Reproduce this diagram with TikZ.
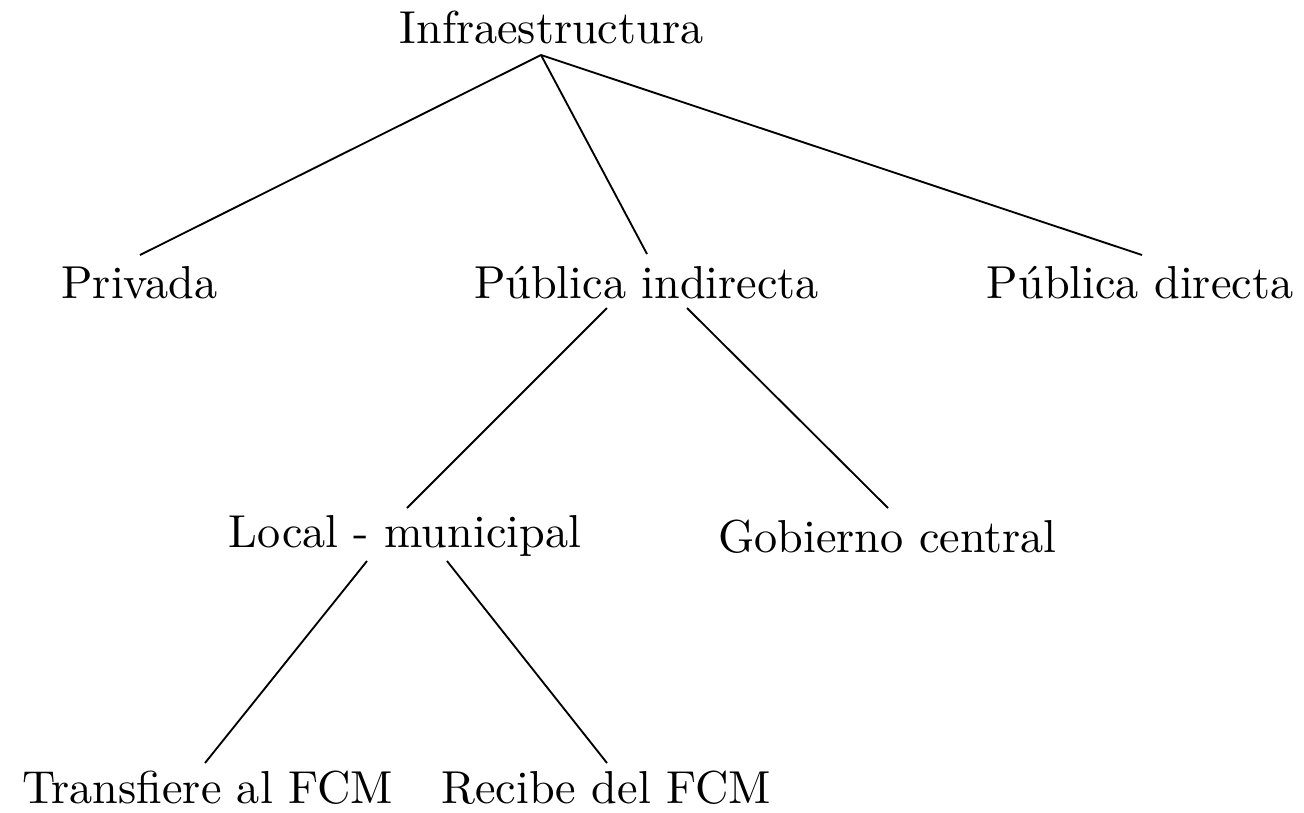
\documentclass[tikz,border=0pt]{standalone}
\usetikzlibrary{calc}
\begin{document}
\begin{tikzpicture}[x=0.2165pt,y=-0.2165pt,
  lbl/.style={anchor=base,inner sep=0pt},
  conn/.style={draw=black,line width=0.4pt}]
\useasboundingbox (0,0) rectangle (1304,812);
\node[lbl] (inf) at (551.5,43) {Infraestructura};
\node[lbl] (pri) at (139.5,298) {Privada};
\node[lbl] (pin) at (646.5,298) {Pública indirecta};
\node[lbl] (pdi) at (1140,298) {Pública directa};
\node[lbl] (loc) at (405,547) {Local - municipal};
\node[lbl] (gob) at (887.5,552) {Gobierno central};
\node[lbl] (tra) at (207.5,803) {Transfiere al FCM};
\node[lbl] (rec) at (606,803) {Recibe del FCM};
\draw[conn] ($(inf.base)+(-10.5,12)$) -- ($(pri.base)+(0.5,-43)$);
\draw[conn] ($(inf.base)+(-10.5,12)$) -- ($(pin.base)+(0.5,-44)$);
\draw[conn] ($(inf.base)+(-10.5,12)$) -- ($(pdi.base)+(2,-43)$);
\draw[conn] ($(pin.base)+(-39.5,10)$) -- ($(loc.base)+(2,-39)$);
\draw[conn] ($(pin.base)+(40.5,10)$) -- ($(gob.base)+(0.5,-44)$);
\draw[conn] ($(loc.base)+(-38,14)$) -- ($(tra.base)+(-2.5,-40)$);
\draw[conn] ($(loc.base)+(42,14)$) -- ($(rec.base)+(1,-40)$);
\end{tikzpicture}
\end{document}
